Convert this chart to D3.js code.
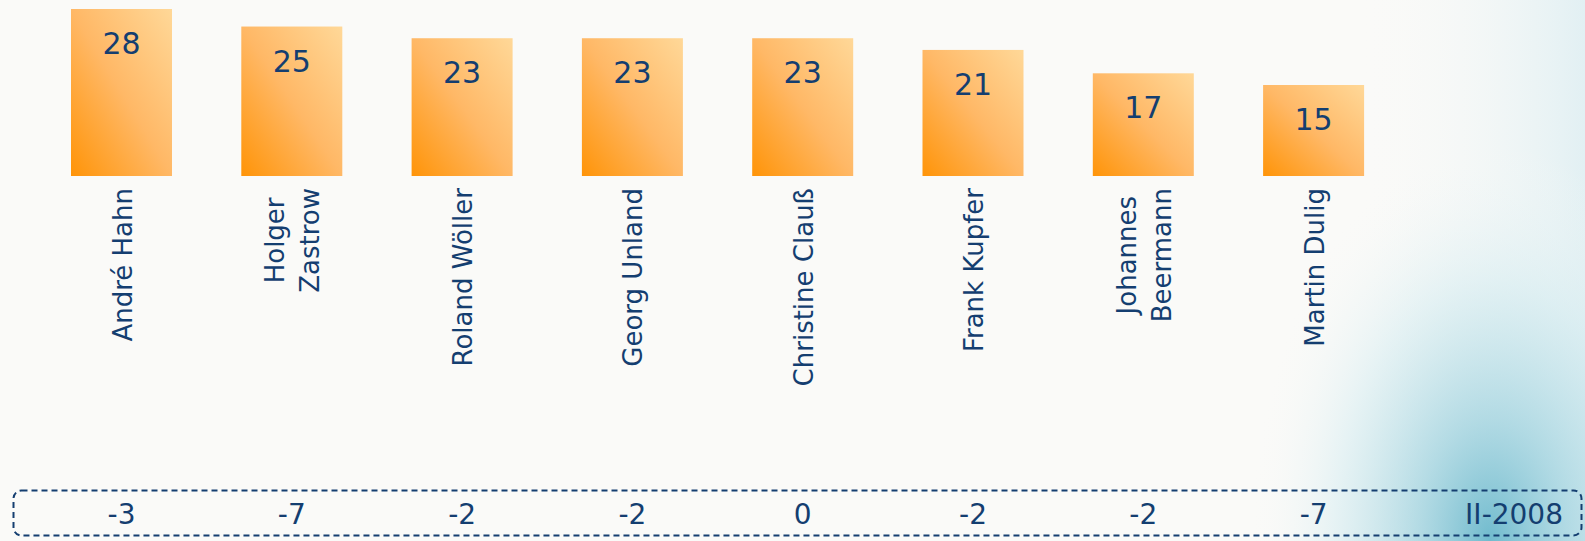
<!DOCTYPE html>
<html><head><meta charset="utf-8">
<script src="https://cdn.jsdelivr.net/npm/d3@7"></script>
<style>html,body{margin:0;padding:0;background:#fafaf8;overflow:hidden}</style>
</head><body>
<svg id="c" width="1585" height="541"></svg>
<script>
const names = [["André Hahn"],["Holger","Zastrow"],["Roland Wöller"],["Georg Unland"],["Christine Clauß"],["Frank Kupfer"],["Johannes","Beermann"],["Martin Dulig"]];
const values = [28,25,23,23,23,21,17,15];
const changes = ["-3","-7","-2","-2","0","-2","-2","-7"];
const periodLabel = "II-2008";

const navy = "#143e70";
const svg = d3.select("#c");
const defs = svg.append("defs");

const bg = defs.append("radialGradient").attr("id","bgc").attr("gradientUnits","userSpaceOnUse")
  .attr("cx",1490).attr("cy",540).attr("r",320)
  .attr("gradientTransform","translate(1490,540) scale(0.75,1.25) translate(-1490,-540)");
bg.append("stop").attr("offset","0").attr("stop-color","#62b4c9").attr("stop-opacity",0.9);
bg.append("stop").attr("offset","0.3").attr("stop-color","#96cedc").attr("stop-opacity",0.7);
bg.append("stop").attr("offset","0.65").attr("stop-color","#d2ebf0").attr("stop-opacity",0.5);
bg.append("stop").attr("offset","1").attr("stop-color","#fafaf8").attr("stop-opacity",0);

const bg2 = defs.append("linearGradient").attr("id","bgr").attr("x1",0).attr("x2",1).attr("y1",0).attr("y2",0);
bg2.append("stop").attr("offset","0").attr("stop-color","#fafaf8").attr("stop-opacity",0);
bg2.append("stop").attr("offset","1").attr("stop-color","#e2f0f3").attr("stop-opacity",1);

const bar = defs.append("linearGradient").attr("id","barg").attr("x1",0).attr("y1",1).attr("x2",1).attr("y2",0);
bar.append("stop").attr("offset","0").attr("stop-color","#ff9408");
bar.append("stop").attr("offset","0.5").attr("stop-color","#ffb866");
bar.append("stop").attr("offset","1").attr("stop-color","#ffd898");

svg.append("rect").attr("width",1585).attr("height",541).attr("fill","#fafaf8");
svg.append("rect").attr("x",1360).attr("width",225).attr("height",541).attr("fill","url(#bgr)");
svg.append("rect").attr("width",1585).attr("height",541).attr("fill","url(#bgc)");

const step = 170.3, bw = 101;
const x = d3.scaleBand().domain(d3.range(values.length))
  .range([71 - (step-bw)/2, 71 - (step-bw)/2 + step*values.length]).paddingInner((step-bw)/step).paddingOuter((step-bw)/step/2);
const cx = i => x(i) + x.bandwidth()/2;
const y = d3.scaleLinear().domain([0,28]).range([172.7, 9]);
const base = 176;

const g = svg.append("g");
g.selectAll("rect.bar").data(values).join("rect").attr("class","bar")
  .attr("x",(d,i)=>x(i)).attr("width",x.bandwidth())
  .attr("y",d=>y(d)).attr("height",d=>base-y(d)).attr("fill","url(#barg)");

g.selectAll("text.val").data(values).join("text").attr("class","val")
  .attr("x",(d,i)=>cx(i)).attr("y",d=>y(d)+45).attr("text-anchor","middle")
  .attr("font-family","DejaVu Sans").attr("font-size",30).attr("fill",navy).text(d=>d);

names.forEach((lines,i)=>{
  const grp = g.append("g");
  const ts = lines.map(t=>grp.append("text").attr("font-family","DejaVu Sans").attr("font-size",26)
     .attr("fill",navy).attr("text-anchor","middle").text(t));
  const L = d3.max(ts.map(t=>t.node().getComputedTextLength()));
  const centerY = 188 + L/2;
  const n = lines.length;
  ts.forEach((t,k)=>{
    const bx = cx(i) + 10 + (k-(n-1)/2)*35;
    t.attr("transform",`translate(${bx},${centerY}) rotate(-90)`);
  });
});

svg.append("rect").attr("x",13.5).attr("y",490.5).attr("width",1568).attr("height",45).attr("rx",8)
  .attr("fill","none").attr("stroke",navy).attr("stroke-width",2).attr("stroke-dasharray","6,4");

svg.selectAll("text.chg").data(changes).join("text").attr("class","chg")
  .attr("x",(d,i)=>cx(i)).attr("y",524).attr("text-anchor","middle")
  .attr("font-family","DejaVu Sans").attr("font-size",28).attr("fill",navy).text(d=>d);
svg.append("text").attr("x",1563).attr("y",524).attr("text-anchor","end")
  .attr("font-family","DejaVu Sans").attr("font-size",28).attr("fill",navy).text(periodLabel);
</script>
</body></html>
